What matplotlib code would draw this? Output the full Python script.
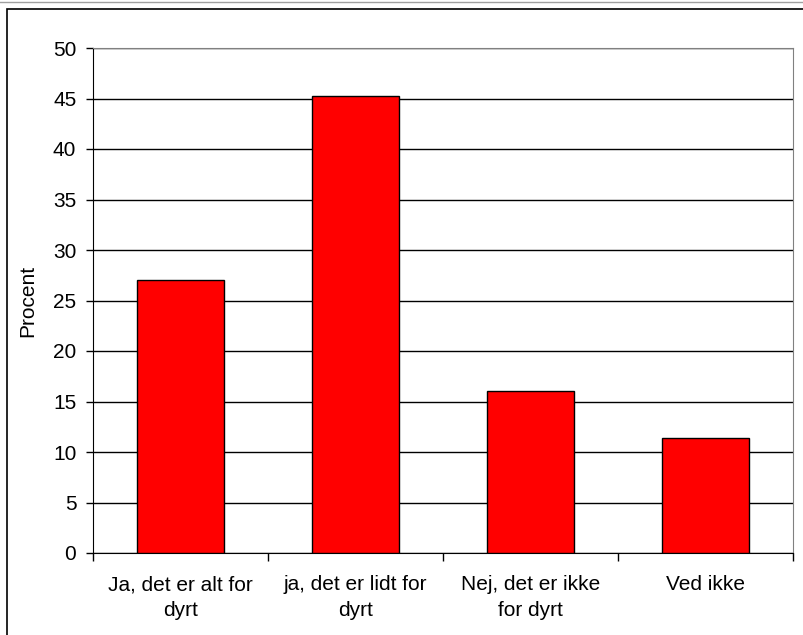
import numpy as np
import matplotlib
matplotlib.use('Agg')
import matplotlib.pyplot as plt
from matplotlib.patches import Rectangle
from matplotlib.lines import Line2D

# data
categories = ['Ja, det er alt for\ndyrt', 'ja, det er lidt for\ndyrt',
              'Nej, det er ikke\nfor dyrt', 'Ved ikke']
values = [27.0, 45.2, 16.0, 11.4]
yticks = np.arange(0, 51, 5)

plt.rcParams['font.family'] = ['Liberation Sans', 'DejaVu Sans']

fig = plt.figure(figsize=(8.04, 6.35), dpi=100)
ax = fig.add_axes([93/804, 82/635, 700/804, 505/635])

x = np.arange(len(categories))
ax.bar(x, values, width=0.5, color='#ff0000', edgecolor='black', linewidth=1, zorder=3)

ax.set_xlim(-0.5, len(categories) - 0.5)
ax.set_ylim(0, 50)
ax.set_yticks(yticks)
ax.yaxis.grid(True, color='black', linewidth=1, zorder=0)
ax.tick_params(axis='y', direction='out', length=5, width=1, labelsize=15, pad=7)

# category labels at centres, tick marks at boundaries
ax.set_xticks(x)
ax.set_xticklabels(categories, fontsize=15, linespacing=1.45)
ax.tick_params(axis='x', which='major', length=0, pad=16)
ax.set_xticks(np.arange(-0.5, len(categories)), minor=True)
ax.tick_params(axis='x', which='minor', direction='out', length=6, width=1)

ax.spines['left'].set_color('black')
ax.spines['bottom'].set_color('black')
ax.spines['top'].set_color('#808080')
ax.spines['right'].set_color('#808080')

ax.set_ylabel('Procent', fontsize=15, labelpad=11)

# outer chart border
fig.patches.append(Rectangle((7/804, -0.05), 1.0, (635 - 9)/635 + 0.05,
                             transform=fig.transFigure, fill=False,
                             edgecolor='black', linewidth=1.2))
fig.lines.append(Line2D([0, 1], [1 - 2/635, 1 - 2/635], transform=fig.transFigure,
                        color='#a0a0a0', linewidth=1))

fig.savefig('out.png', dpi=100)
